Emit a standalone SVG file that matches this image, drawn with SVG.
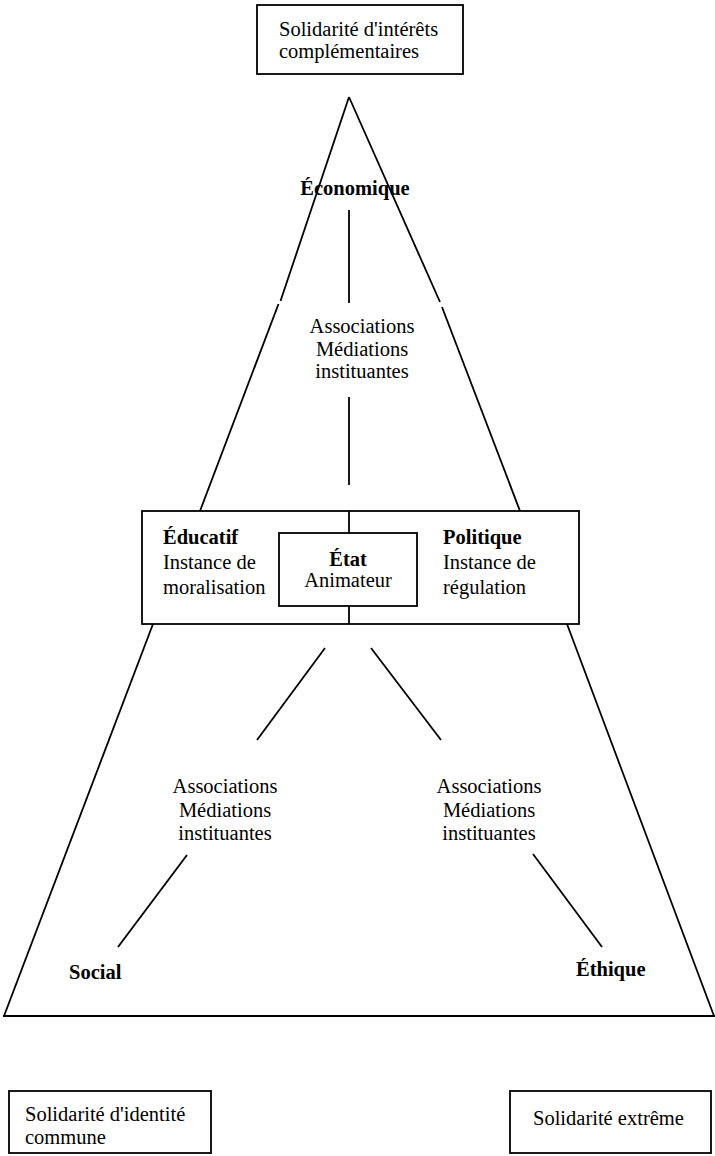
<svg xmlns="http://www.w3.org/2000/svg" width="715" height="1156" viewBox="0 0 715 1156">
<style>
text{font-family:'Liberation Serif','Times New Roman',Tinos,'DejaVu Serif',serif;font-size:20.5px;fill:#000}
.b{font-weight:bold}
.c{text-anchor:middle}
.box{fill:#fff;stroke:#000;stroke-width:1.8}
.ln{stroke:#000;stroke-width:1.8;fill:none;stroke-linecap:butt}
</style>
<rect width="715" height="1156" fill="#fff"/>
<g id="connectors">
<line class="ln" x1="349" y1="97" x2="280.5" y2="301"/>
<line class="ln" x1="278.5" y1="304" x2="200" y2="511"/>
<line class="ln" x1="349" y1="97" x2="440" y2="302"/>
<line class="ln" x1="442" y1="307" x2="520" y2="511"/>
<line class="ln" x1="349" y1="210" x2="349" y2="303"/>
<line class="ln" x1="349" y1="397" x2="349" y2="485"/>
<line class="ln" x1="349" y1="511" x2="349" y2="533"/>
<line class="ln" x1="349" y1="606" x2="349" y2="624"/>
<line class="ln" x1="153" y1="624" x2="4" y2="1016"/>
<line class="ln" x1="567" y1="624" x2="714" y2="1016"/>
<line class="ln" x1="3" y1="1016" x2="715" y2="1016"/>
<line class="ln" x1="325" y1="648" x2="257" y2="740"/>
<line class="ln" x1="371" y1="648" x2="441" y2="740"/>
<line class="ln" x1="187" y1="855" x2="118" y2="947"/>
<line class="ln" x1="533" y1="854" x2="602" y2="947"/>
</g>
<g id="top-box">
<rect class="box" x="257" y="5" width="206" height="69"/>
<text x="279" y="36">Solidarité d'intérêts</text>
<text x="279" y="58">complémentaires</text>
</g>
<g id="economique">
<text class="b c" x="355" y="195">Économique</text>
</g>
<g id="assoc-top">
<text class="c" x="362" y="333">Associations</text>
<text class="c" x="362" y="356">Médiations</text>
<text class="c" x="362" y="378">instituantes</text>
</g>
<g id="middle-box">
<rect class="box" x="142" y="511" width="437" height="113" style="fill:none"/>
<text class="b" x="163" y="544">Éducatif</text>
<text x="163" y="569">Instance de</text>
<text x="163" y="594">moralisation</text>
<text class="b" x="443" y="544">Politique</text>
<text x="443" y="569">Instance de</text>
<text x="443" y="594">régulation</text>
</g>
<g id="etat">
<rect class="box" x="279" y="533" width="138" height="73"/>
<text class="b c" x="348" y="566">État</text>
<text class="c" x="348" y="587">Animateur</text>
</g>
<g id="assoc-left">
<text class="c" x="225" y="793">Associations</text>
<text class="c" x="225" y="817">Médiations</text>
<text class="c" x="225" y="840">instituantes</text>
</g>
<g id="assoc-right">
<text class="c" x="489" y="793">Associations</text>
<text class="c" x="489" y="817">Médiations</text>
<text class="c" x="489" y="840">instituantes</text>
</g>
<g id="social">
<text class="b" x="69" y="979">Social</text>
</g>
<g id="ethique">
<text class="b" x="576" y="976">Éthique</text>
</g>
<g id="box-identite">
<rect class="box" x="9" y="1091" width="202" height="62"/>
<text x="25" y="1121">Solidarité d'identité</text>
<text x="25" y="1144">commune</text>
</g>
<g id="box-extreme">
<rect class="box" x="510" y="1091" width="201" height="62"/>
<text x="533" y="1125">Solidarité extrême</text>
</g>
</svg>
